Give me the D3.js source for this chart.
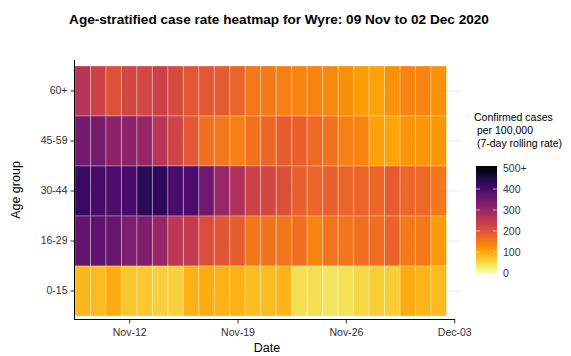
<!DOCTYPE html>
<html>
<head>
<meta charset="utf-8">
<script src="https://cdn.jsdelivr.net/npm/d3@7"></script>
<style>
  html, body { margin: 0; padding: 0; background: #fff; }
  svg { display: block; font-family: "Liberation Sans", Arial, sans-serif; }
</style>
</head>
<body>
<svg id="chart" width="571" height="356"></svg>
<script>
// ---- data ----
const startDate = "2020-11-09";
const nDays = 24;
const ageGroups = ["60+", "45-59", "30-44", "16-29", "0-15"];
const rate60plus = [255,225,200,215,215,225,210,190,190,185,175,150,148,140,135,135,130,122,108,102,120,135,135,120];
const rate45to59 = [340,335,310,310,298,255,222,190,160,150,140,155,168,182,178,165,155,140,133,105,100,115,115,115];
const rate30to44 = [410,390,385,392,425,420,390,387,345,295,265,225,215,202,178,172,178,172,172,168,185,170,165,152];
const rate16to29 = [360,365,355,330,325,297,250,240,205,192,185,152,155,154,160,135,153,153,160,162,175,148,148,110];
const rate0to15  = [82,80,92,65,65,55,55,87,92,86,86,77,77,84,42,42,35,40,50,60,60,93,84,80];
const seriesByAge = {"60+": rate60plus, "45-59": rate45to59, "30-44": rate30to44, "16-29": rate16to29, "0-15": rate0to15};
const tickDates = ["2020-11-12", "2020-11-19", "2020-11-26", "2020-12-03"];
const tickLabels = ["Nov-12", "Nov-19", "Nov-26", "Dec-03"];
const legendTicks = [0, 100, 200, 300, 400, 500];
const legendTickLabels = ["0", "100", "200", "300", "400", "500+"];

(function () {
const day = 86400000;
const t0 = Date.parse(startDate + "T00:00:00Z");
const cells = [];
ageGroups.forEach(a => {
  seriesByAge[a].forEach((v, i) => cells.push({age: a, date: new Date(t0 + i * day), value: v}));
});

const svg = d3.select("#chart");
const pLeft = 75, pRight = 446.5, pTop = 66, pBottom = 316;

const x = d3.scaleUtc()
  .domain([new Date(t0 - day / 2), new Date(t0 + (nDays - 0.5) * day)])
  .range([pLeft, pRight]);
const y = d3.scaleBand().domain(ageGroups).range([pTop, pBottom]).padding(0);
const color = v => d3.interpolateInferno(1 - Math.min(v, 500) / 500);

// grid lines (visible only past the tiles)
svg.append("g").selectAll("line").data(ageGroups).join("line")
  .attr("x1", pLeft).attr("x2", 462)
  .attr("y1", d => y(d) + y.bandwidth() / 2).attr("y2", d => y(d) + y.bandwidth() / 2)
  .attr("stroke", "#ebebeb").attr("stroke-width", 1);

// tiles
svg.append("g").selectAll("rect").data(cells).join("rect")
  .attr("x", d => x(new Date(+d.date - day / 2)))
  .attr("width", d => x(new Date(+d.date + day / 2)) - x(new Date(+d.date - day / 2)))
  .attr("y", d => y(d.age))
  .attr("height", y.bandwidth())
  .attr("fill", d => color(d.value))
  .attr("stroke", "rgba(255,255,255,0.3)")
  .attr("stroke-width", 1);

// x axis
const xAxis = d3.axisBottom(x)
  .tickValues(tickDates.map(s => new Date(s + "T00:00:00Z")))
  .tickFormat((d, i) => tickLabels[i])
  .tickSize(4).tickSizeOuter(0);
const gx = svg.append("g").attr("transform", "translate(0,319.5)").call(xAxis);
gx.select(".domain").remove();
gx.append("line").attr("x1", pLeft - 0.5).attr("x2", 455).attr("y1", 0).attr("y2", 0)
  .attr("stroke", "#000").attr("stroke-width", 1);
gx.selectAll(".tick line").attr("stroke", "#333");
gx.selectAll(".tick text").attr("fill", "#333").style("font-size", "10.5px").attr("dy", "0.95em");

// y axis
const yAxis = d3.axisLeft(y).tickSize(4).tickSizeOuter(0);
const gy = svg.append("g").attr("transform", "translate(74.5,0)").call(yAxis);
gy.select(".domain").remove();
gy.append("line").attr("x1", 0).attr("x2", 0).attr("y1", 60).attr("y2", 320)
  .attr("stroke", "#000").attr("stroke-width", 1);
gy.selectAll(".tick line").attr("stroke", "#333");
gy.selectAll(".tick text").attr("fill", "#333").style("font-size", "10.5px").attr("x", -7);

// titles
svg.append("text").attr("x", 279).attr("y", 24).attr("text-anchor", "middle")
  .style("font-size", "13.6px").style("font-weight", "bold").attr("fill", "#000")
  .text("Age-stratified case rate heatmap for Wyre: 09 Nov to 02 Dec 2020");
svg.append("text").attr("x", 267).attr("y", 352).attr("text-anchor", "middle")
  .style("font-size", "12.5px").attr("fill", "#000").text("Date");
svg.append("text").attr("transform", "translate(20,190) rotate(-90)").attr("text-anchor", "middle")
  .style("font-size", "12.5px").attr("fill", "#000").text("Age group");

// legend
const lg = svg.append("g");
["Confirmed cases", " per 100,000", " (7-day rolling rate)"].forEach((t, i) => {
  lg.append("text").attr("x", 474).attr("y", 121 + i * 13)
    .style("font-size", "10.5px").attr("fill", "#000").style("white-space", "pre").text(t);
});
const ly = d3.scaleLinear().domain([0, 500]).range([273, 168]);
const defs = svg.append("defs");
const grad = defs.append("linearGradient").attr("id", "lgrad")
  .attr("x1", 0).attr("y1", 1).attr("x2", 0).attr("y2", 0);
d3.range(0, 1.0001, 0.05).forEach(t => {
  grad.append("stop").attr("offset", t).attr("stop-color", color(t * 500));
});
const barX = 476, barW = 21;
lg.append("rect").attr("x", barX).attr("y", ly(500) - 2).attr("width", barW)
  .attr("height", ly(0) - ly(500) + 2).attr("fill", "url(#lgrad)");
legendTicks.forEach((v, i) => {
  if (v > 0 && v < 500) {
    lg.append("line").attr("x1", barX).attr("x2", barX + 4).attr("y1", ly(v)).attr("y2", ly(v))
      .attr("stroke", "rgba(255,255,255,0.6)");
    lg.append("line").attr("x1", barX + barW - 4).attr("x2", barX + barW).attr("y1", ly(v)).attr("y2", ly(v))
      .attr("stroke", "rgba(255,255,255,0.6)");
  }
  lg.append("text").attr("x", 503).attr("y", ly(v)).attr("dy", "0.35em")
    .style("font-size", "10.5px").attr("fill", "#333").text(legendTickLabels[i]);
});
})();
</script>
</body>
</html>
